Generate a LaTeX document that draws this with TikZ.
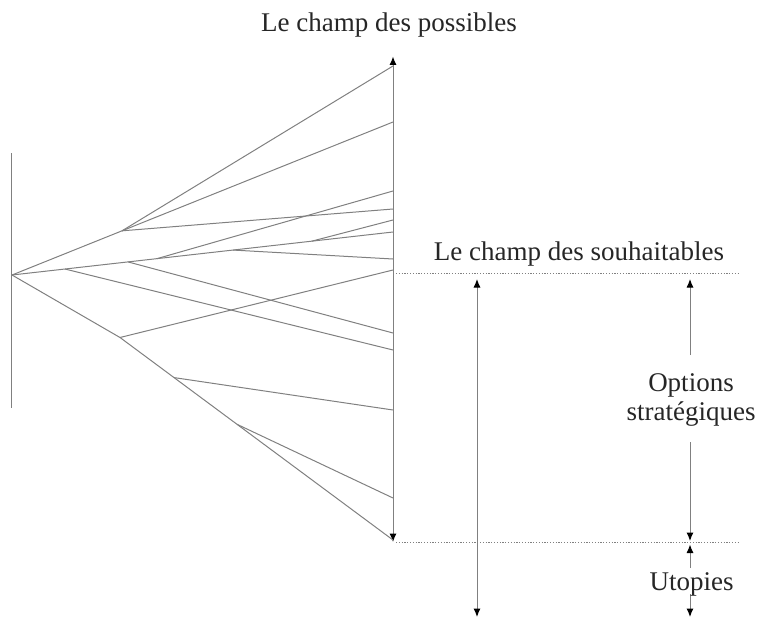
\documentclass[tikz,border=0pt]{standalone}
\usepackage{fontspec}
\setmainfont{Liberation Serif}
\usetikzlibrary{arrows.meta,calc}
\begin{document}
\begin{tikzpicture}[x=1pt,y=-1pt,
  >={Latex[length=8.5pt,width=7pt,color=black]},
  fan/.style={draw=black!50,line width=1pt},
  guide/.style={draw=black!50,line width=0.9pt,dash pattern=on 1.2pt off 1.6pt},
  lbl/.style={font=\fontsize{27}{29}\selectfont,inner sep=0pt,anchor=base,text=black!85}]
\useasboundingbox (0,0) rectangle (758,618);
% left bar and root
\coordinate (L1) at (11,153);
\coordinate (L2) at (11,408);
\coordinate (O) at (12,275);
% axis
\coordinate (top) at (393,56.5);
\coordinate (bot) at (393,542);
% end points on the axis
\coordinate (e1) at (393,66);
\coordinate (e2) at (393,122);
\coordinate (e3) at (393,191);
\coordinate (e4) at (393,209);
\coordinate (e5) at (393,220);
\coordinate (e6) at (393,232);
\coordinate (e7) at (393,259);
\coordinate (e8) at (393,270);
\coordinate (e9) at (393,333);
\coordinate (e10) at (393,350);
\coordinate (e11) at (393,410);
\coordinate (e12) at (393,498);
\coordinate (e13) at (393,540);
% branch points
\coordinate (A) at ($(O)!0.2887!(e2)$);
\coordinate (B) at ($(O)!0.139!(e6)$);
\coordinate (C) at ($(O)!0.3045!(e6)$);
\coordinate (E) at ($(O)!0.3806!(e6)$);
\coordinate (D) at ($(O)!0.58!(e6)$);
\coordinate (F) at ($(O)!0.787!(e6)$);
\coordinate (G) at (120,337.5);
\coordinate (H) at ($(G)!0.198!(e13)$);
\coordinate (I) at ($(G)!0.4286!(e13)$);
% drawing
\draw[fan] (L1) -- (L2);
\draw[fan,<->] (bot) -- (top);
\draw[fan] (O) -- (e2);
\draw[fan] (A) -- (e1);
\draw[fan] (A) -- (e4);
\draw[fan] (O) -- (e6);
\draw[fan] (E) -- (e3);
\draw[fan] (F) -- (e5);
\draw[fan] (D) -- (e7);
\draw[fan] (C) -- (e9);
\draw[fan] (B) -- (e10);
\draw[fan] (O) -- (G) -- (e13);
\draw[fan] (G) -- (e8);
\draw[fan] (H) -- (e11);
\draw[fan] (I) -- (e12);
% dotted guides
\coordinate (d1a) at (396,273.3);
\coordinate (d1b) at (740,273.3);
\coordinate (d2a) at (396,542.3);
\coordinate (d2b) at (740,542.3);
\draw[guide] (d1a) -- (d1b);
\draw[guide] (d2a) -- (d2b);
% long double arrow
\coordinate (w1) at (477,279);
\coordinate (w2) at (477,617);
\draw[fan,<->] (w1) -- (w2);
% right arrows
\coordinate (r1) at (690,279);
\coordinate (r2) at (690,355);
\coordinate (r3) at (690,442);
\coordinate (r4) at (690,541);
\draw[fan,->] (r2) -- (r1);
\draw[fan,->] (r3) -- (r4);
\coordinate (u1) at (690,544.5);
\coordinate (u2) at (690,568);
\coordinate (u3) at (690,594);
\coordinate (u4) at (690,617);
\draw[fan,->] (u2) -- (u1);
\draw[fan,->] (u3) -- (u4);
% labels
\node[lbl] (poss) at (389,32) {Le champ des possibles};
\node[lbl] (souh) at (579,260.5) {Le champ des souhaitables};
\node[lbl] (opt1) at (691,391.7) {Options};
\node[lbl] (opt2) at (691,420.5) {stratégiques};
\node[lbl] (uto) at (691.7,590) {Utopies};
\end{tikzpicture}
\end{document}
